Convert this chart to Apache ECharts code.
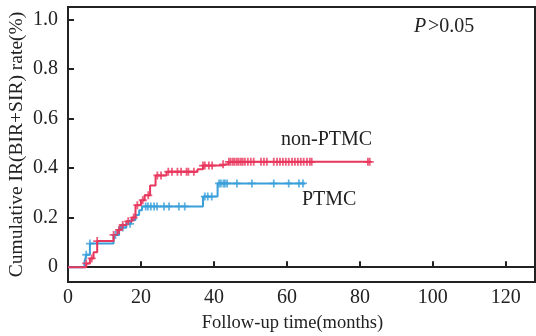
<!DOCTYPE html>
<html><head><meta charset="utf-8">
<script src="https://cdn.jsdelivr.net/npm/echarts@6/dist/echarts.min.js"></script>
<style>html,body{margin:0;padding:0;background:#fff}#c{width:536px;height:336px}</style>
</head><body><div id="c"></div>
<script>
// Kaplan-Meier style steps: [month, cumulative rate]
var nonPTMCSteps = [[0,0],[5,0.015],[6,0.035],[7,0.06],[8,0.105],[12.5,0.13],[13.5,0.15],[14.5,0.17],[16,0.185],[17.5,0.2],[18.5,0.25],[20,0.27],[21,0.29],[22.5,0.33],[24,0.37],[27,0.385],[35.5,0.395],[37,0.41],[42,0.415],[44,0.425],[83,0.425]];
var ptmcSteps = [[0,0],[4.5,0.02],[5,0.05],[6,0.095],[12.5,0.13],[14,0.16],[16,0.175],[17.3,0.19],[18.5,0.21],[19.5,0.23],[20.3,0.245],[37,0.285],[41,0.338],[65,0.338]];
var nonPTMCCensor = [5,6.5,8,12.5,14,15,16.5,18,19,20.5,22,24.5,25.5,27.5,28.5,30,31,32.5,33,34.5,37,37.5,38.6,39.5,42.5,44.1,44.6,45.2,45.7,46.3,46.8,47.4,47.9,48.5,49.3,50.1,50.9,52.9,53.7,54.5,56.4,57.3,58.1,58.9,59.7,60.5,61.4,62.2,63,63.8,64.6,65.5,66.3,66.8,82.2,82.7];
var ptmcCensor = [5,6,13,15,17,21.3,21.9,22.7,23.6,24.4,26.3,27.7,30.4,32,37.5,38.3,39.4,41.4,41.9,42.6,43,43.6,46.3,50.4,56.4,60.5,63.3,64.4];
var xTicks = [0,20,40,60,80,100,120];
var yTicks = [0,0.2,0.4,0.6,0.8,1.0];

function valueAt(steps, t){var v=steps[0][1];for(var i=0;i<steps.length;i++){if(steps[i][0]<=t)v=steps[i][1];}return v;}
function censorPts(steps, times){return times.map(function(t){return [t, valueAt(steps,t)];});}

var RED='#e8365d', BLUE='#3a9fd9';
var FONT='Liberation Serif';
var plus='path://M0,5L10,5M5,0L5,10';
var chart=echarts.init(document.getElementById('c'));
chart.setOption({
  animation:false,
  grid:{left:68,right:1,top:7,bottom:54,show:true,borderColor:'#222',borderWidth:2,containLabel:false,outerBoundsMode:'none'},
  xAxis:{type:'value',min:0,max:128,
    axisLine:{lineStyle:{color:'#222',width:2}},
    axisTick:{inside:true,length:6,customValues:xTicks,lineStyle:{color:'#222',width:2}},
    axisLabel:{customValues:xTicks,color:'#222',fontFamily:FONT,fontSize:20,margin:6},
    splitLine:{show:false},
    name:'Follow-up time(months)',nameLocation:'middle',nameGap:32,nameMoveOverlap:false,
    nameTextStyle:{color:'#222',fontFamily:FONT,fontSize:18.5,padding:[0,18,0,0]}},
  yAxis:{type:'value',min:-0.06,max:1.05,
    axisLine:{lineStyle:{color:'#222',width:2}},
    axisTick:{inside:true,length:6,customValues:yTicks,lineStyle:{color:'#222',width:2}},
    axisLabel:{customValues:yTicks,color:'#222',fontFamily:FONT,fontSize:20,margin:10,
      formatter:function(v){return v===0?'0':v.toFixed(1);}},
    splitLine:{show:false},
    name:'Cumulative IR(BIR+SIR) rate(%)',nameLocation:'middle',nameGap:41,nameRotate:90,nameMoveOverlap:false,
    nameTextStyle:{color:'#222',fontFamily:FONT,fontSize:19.5}},
  series:[
    {type:'line',step:'end',data:ptmcSteps,showSymbol:false,lineStyle:{color:BLUE,width:2},z:2},
    {type:'line',step:'end',data:nonPTMCSteps,showSymbol:false,lineStyle:{color:RED,width:2},z:3},
    {type:'scatter',data:censorPts(ptmcSteps,ptmcCensor),symbol:plus,symbolSize:8,
      itemStyle:{color:'none',borderColor:BLUE,borderWidth:1.8},z:4},
    {type:'scatter',data:censorPts(nonPTMCSteps,nonPTMCCensor),symbol:plus,symbolSize:8,
      itemStyle:{color:'none',borderColor:RED,borderWidth:1.8},z:5}
  ],
  graphic:[
    {type:'text',left:414,top:17,style:{text:'P',font:'italic 20px "Liberation Serif"',fill:'#222'}},
    {type:'text',left:428,top:17,style:{text:'>0.05',font:'20px "Liberation Serif"',fill:'#222'}},
    {type:'text',left:281,top:130,style:{text:'non-PTMC',font:'20px "Liberation Serif"',fill:'#222'}},
    {type:'text',left:302,top:190,style:{text:'PTMC',font:'20px "Liberation Serif"',fill:'#222'}}
  ]
});
</script></body></html>
